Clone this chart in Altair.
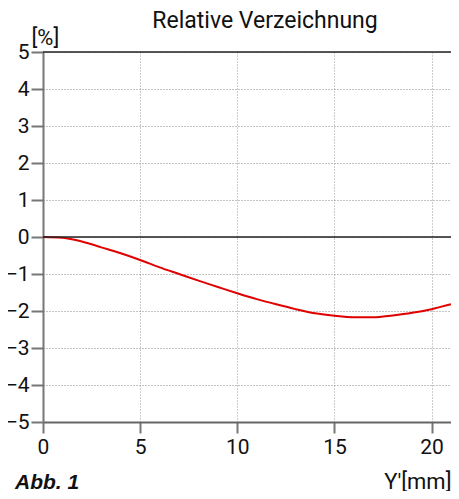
import altair as alt
import pandas as pd

# Data
x_mm = [0, 1, 2, 3, 4, 5, 6, 7, 8, 9, 10, 11, 12, 13, 14, 15, 16, 17, 18, 19, 20, 21]
distortion = [0.0, -0.02, -0.12, -0.28, -0.44, -0.62, -0.82, -1.00, -1.18, -1.35, -1.52,
              -1.68, -1.82, -1.95, -2.06, -2.13, -2.17, -2.17, -2.12, -2.05, -1.95, -1.82]
y_ticks = [-5, -4, -3, -2, -1, 0, 1, 2, 3, 4, 5]
x_ticks = [0, 5, 10, 15, 20]
ref_lines = [0, 5]

title_text = "Relative Verzeichnung"
y_title = "[%]"
x_title = "Y'[mm]"
fig_label = "Abb. 1"

W, H = 408, 370
FONT = "Roboto"

df = pd.DataFrame({"x": x_mm, "y": distortion})
xscale = alt.Scale(domain=[0, 21], nice=False, zero=False)
yscale = alt.Scale(domain=[-5, 5], nice=False)

xaxis = alt.Axis(
    values=x_ticks, title=x_title, titleX=W, titleY=66, titleAlign="right",
    titleBaseline="alphabetic", titleFont=FONT, titleFontSize=22, titleFontWeight=400,
    titleColor="#111", labelFont=FONT, labelFontSize=21, labelFontWeight=400,
    labelColor="#111", labelPadding=3, tickSize=11, tickWidth=2, tickColor="#777",
    domainColor="#666", domainWidth=2, grid=True, gridDash=[1, 2], gridColor="#999",
    gridWidth=1, labelFlush=False, labelOverlap=False)
yaxis = alt.Axis(
    values=y_ticks, title=y_title, titleAngle=0, titleX=-12, titleY=-8,
    titleAlign="left", titleBaseline="alphabetic", titleFont=FONT, titleFontSize=22,
    titleFontWeight=400, titleColor="#111", labelFont=FONT, labelFontSize=21,
    labelFontWeight=400, labelColor="#111", labelPadding=2, tickSize=12, tickWidth=2,
    tickColor="#777", domainColor="#777", domainWidth=2, grid=True, gridDash=[1, 2],
    gridColor="#888", gridWidth=1, labelFlush=False, labelOverlap=False)

line = alt.Chart(df).mark_line(color="#e10000", strokeWidth=2, interpolate="monotone").encode(
    x=alt.X("x:Q", scale=xscale, axis=xaxis),
    y=alt.Y("y:Q", scale=yscale, axis=yaxis),
)

rules = alt.Chart(pd.DataFrame({"v": ref_lines})).mark_rule(color="#222", strokeWidth=1.5).encode(
    y=alt.Y("v:Q", scale=yscale, axis=yaxis)
)

title = alt.Chart(pd.DataFrame({"t": [title_text]})).mark_text(
    font=FONT, fontSize=23, fontWeight=400, color="#111", align="center", baseline="alphabetic"
).encode(text="t:N", x=alt.value(222), y=alt.value(-24))

label = alt.Chart(pd.DataFrame({"t": [fig_label]})).mark_text(
    font="Liberation Sans", fontSize=21, fontWeight="bold", fontStyle="italic", color="#111",
    align="left", baseline="alphabetic"
).encode(text="t:N", x=alt.value(-28), y=alt.value(437))

chart = alt.layer(line, rules, title, label).properties(
    width=W, height=H,
    padding={"left": 35, "top": 44, "right": 0, "bottom": 69},
    autosize=alt.AutoSizeParams(type="none"),
).configure_view(stroke=None)

chart.save("out.html", embed_options={"renderer": "svg", "actions": False})
